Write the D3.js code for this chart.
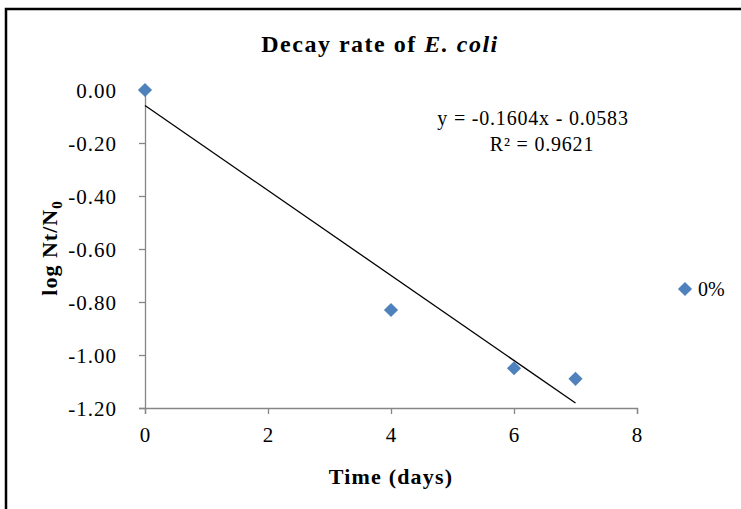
<!DOCTYPE html>
<html><head><meta charset="utf-8">
<script src="https://cdn.jsdelivr.net/npm/d3@7"></script>
<style>body{margin:0;background:#fff;} svg{display:block;}</style>
</head><body><svg id="c" width="741" height="509"></svg>
<script>
const days = [0, 4, 6, 7];
const logRatio = [0, -0.83, -1.05, -1.09];
const xTicks = [0, 2, 4, 6, 8];
const yTicks = [0, -0.2, -0.4, -0.6, -0.8, -1.0, -1.2];
const slope = -0.1604, intercept = -0.0583;
const seriesName = "0%";

const svg = d3.select("#c");
const font = "'Liberation Serif', 'Times New Roman', serif";
svg.append("rect").attr("x", 0).attr("y", 0).attr("width", 741).attr("height", 509).attr("fill", "#fff");
svg.append("rect").attr("x", 6).attr("y", 9).attr("width", 760).attr("height", 520)
  .attr("fill", "none").attr("stroke", "#000").attr("stroke-width", 2.5);

const x = d3.scaleLinear().domain([0, 8]).range([145, 637]);
const y = d3.scaleLinear().domain([-1.2, 0]).range([408, 90]);
const hy = s => s.replace("\u2212", "-");

const gx = svg.append("g").attr("transform", "translate(0,408)")
  .call(d3.axisBottom(x).tickValues(xTicks).tickSize(6).tickPadding(10).tickFormat(d => hy(d3.format("d")(d))));
const gy = svg.append("g").attr("transform", "translate(145,0)")
  .call(d3.axisLeft(y).tickValues(yTicks).tickSize(6).tickPadding(22).tickFormat(d => hy(d3.format(".2f")(d))));
[gx, gy].forEach(g => {
  g.select(".domain").attr("stroke", "#868686").attr("stroke-width", 1.3);
  g.selectAll(".tick line").attr("stroke", "#868686").attr("stroke-width", 1.3);
  g.selectAll("text").attr("fill", "#000").style("font-family", font).style("font-size", "21px").style("letter-spacing", "1px");
});
gx.selectAll(".tick text").attr("dy", "0.85em");
gy.selectAll(".tick text").attr("dy", "0.35em");

// trendline
svg.append("line")
  .attr("x1", x(0)).attr("y1", y(intercept))
  .attr("x2", x(7)).attr("y2", y(slope * 7 + intercept))
  .attr("stroke", "#000").attr("stroke-width", 1.3);

svg.selectAll(".pt").data(days).enter().append("path")
  .attr("d", d3.symbol().type(d3.symbolSquare).size(100))
  .attr("transform", (d, i) => `translate(${x(d)},${y(logRatio[i])}) rotate(45)`)
  .attr("fill", "#4F81BD");

// title
const t = svg.append("text").attr("x", 380).attr("y", 52).attr("text-anchor", "middle")
  .style("font-family", font).style("font-size", "24px").style("font-weight", "bold").style("letter-spacing", "1.5px");
t.append("tspan").text("Decay rate of ");
t.append("tspan").style("font-style", "italic").text("E. coli");

// equation
svg.append("text").attr("x", 533).attr("y", 125).attr("text-anchor", "middle")
  .style("font-family", font).style("font-size", "20px").style("letter-spacing", "0.8px")
  .text("y = -0.1604x  - 0.0583");
svg.append("text").attr("x", 542).attr("y", 151).attr("text-anchor", "middle")
  .style("font-family", font).style("font-size", "20px").style("letter-spacing", "0.8px")
  .text("R² = 0.9621");

// axis titles
svg.append("text").attr("x", 391).attr("y", 484).attr("text-anchor", "middle")
  .style("font-family", font).style("font-size", "22px").style("font-weight", "bold").style("letter-spacing", "1.2px")
  .text("Time (days)");
const yl = svg.append("text").attr("transform", "translate(57,248) rotate(-90)").attr("text-anchor", "middle")
  .style("font-family", font).style("font-size", "22px").style("font-weight", "bold").style("letter-spacing", "1px");
yl.append("tspan").text("log Nt/N");
yl.append("tspan").attr("dy", 5).style("font-size", "15px").text("0");

// legend
svg.append("path").attr("transform", "translate(685,289) rotate(45)")
  .attr("d", d3.symbol().type(d3.symbolSquare).size(100)).attr("fill", "#4F81BD");
svg.append("text").attr("x", 698).attr("y", 296)
  .style("font-family", font).style("font-size", "20px").text(seriesName);
</script></body></html>
